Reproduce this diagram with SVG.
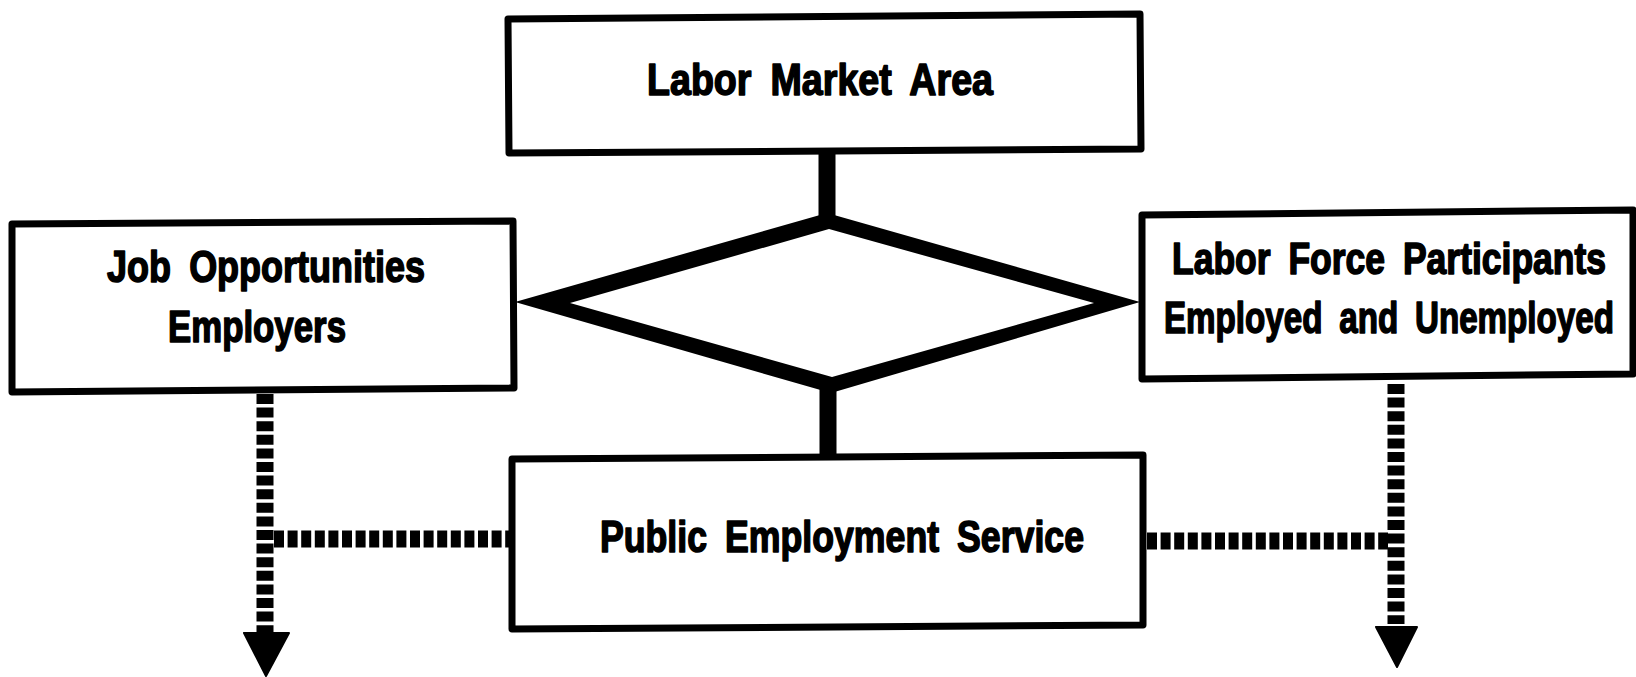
<svg xmlns="http://www.w3.org/2000/svg" width="1636" height="677" viewBox="0 0 1636 677">
  <defs>
    <style>
      .box { fill: #ffffff; stroke: #000000; stroke-width: 7; stroke-linejoin: round; }
      .label { font-family: "Liberation Sans", Arial, sans-serif; font-weight: bold; font-size: 44px; fill: #000000; stroke: #000000; stroke-width: 1.6; stroke-linejoin: round; word-spacing: 10px; }
      .solid { stroke: #000000; stroke-width: 17; fill: none; }
      .dashed { stroke: #000000; stroke-width: 17; fill: none; stroke-dasharray: 10 3.6; }
      .head { fill: #000000; stroke: #000000; stroke-width: 2; stroke-linejoin: round; }
    </style>
  </defs>

  <rect width="1636" height="677" fill="#ffffff"/>

  <!-- connectors: solid links through the diamond, dotted flows with arrowheads -->
  <g id="connectors">
    <line class="solid" x1="827" y1="152" x2="827" y2="218"/>
    <line class="solid" x1="828" y1="388" x2="828" y2="458"/>
    <path d="M827 213 L1140 302 L831 393 L515 302 Z M829 229 L570 303 L832 377 L1094 303 Z" fill="#000000" fill-rule="evenodd"/>

    <line class="dashed" x1="265" y1="394" x2="265" y2="632"/>
    <line class="dashed" x1="274" y1="539" x2="509" y2="539"/>
    <polygon class="head" points="244,633 289,633 266,676"/>

    <line class="dashed" x1="1396" y1="384" x2="1396" y2="624"/>
    <line class="dashed" x1="1147" y1="541" x2="1388" y2="541"/>
    <polygon class="head" points="1376,627 1417,627 1397,667"/>
  </g>

  <g id="labor-market-area">
    <polygon class="box" points="508,19 1140,14 1141,149 509,153"/>
    <text class="label" x="647" y="95" textLength="346" lengthAdjust="spacingAndGlyphs">Labor Market Area</text>
  </g>

  <g id="job-opportunities">
    <polygon class="box" points="12,224 513,221 514,388 12,392"/>
    <text class="label" x="107" y="282" textLength="318" lengthAdjust="spacingAndGlyphs">Job Opportunities</text>
    <text class="label" x="168" y="342" textLength="178" lengthAdjust="spacingAndGlyphs">Employers</text>
  </g>

  <g id="labor-force-participants">
    <polygon class="box" points="1142,215 1633,210 1633,374 1142,379"/>
    <text class="label" x="1172" y="274" textLength="434" lengthAdjust="spacingAndGlyphs">Labor Force Participants</text>
    <text class="label" x="1164" y="333" textLength="450" lengthAdjust="spacingAndGlyphs">Employed and Unemployed</text>
  </g>

  <g id="public-employment-service">
    <polygon class="box" points="512,459 1143,455 1143,625 512,629"/>
    <text class="label" x="600" y="552" textLength="484" lengthAdjust="spacingAndGlyphs">Public Employment Service</text>
  </g>
</svg>
